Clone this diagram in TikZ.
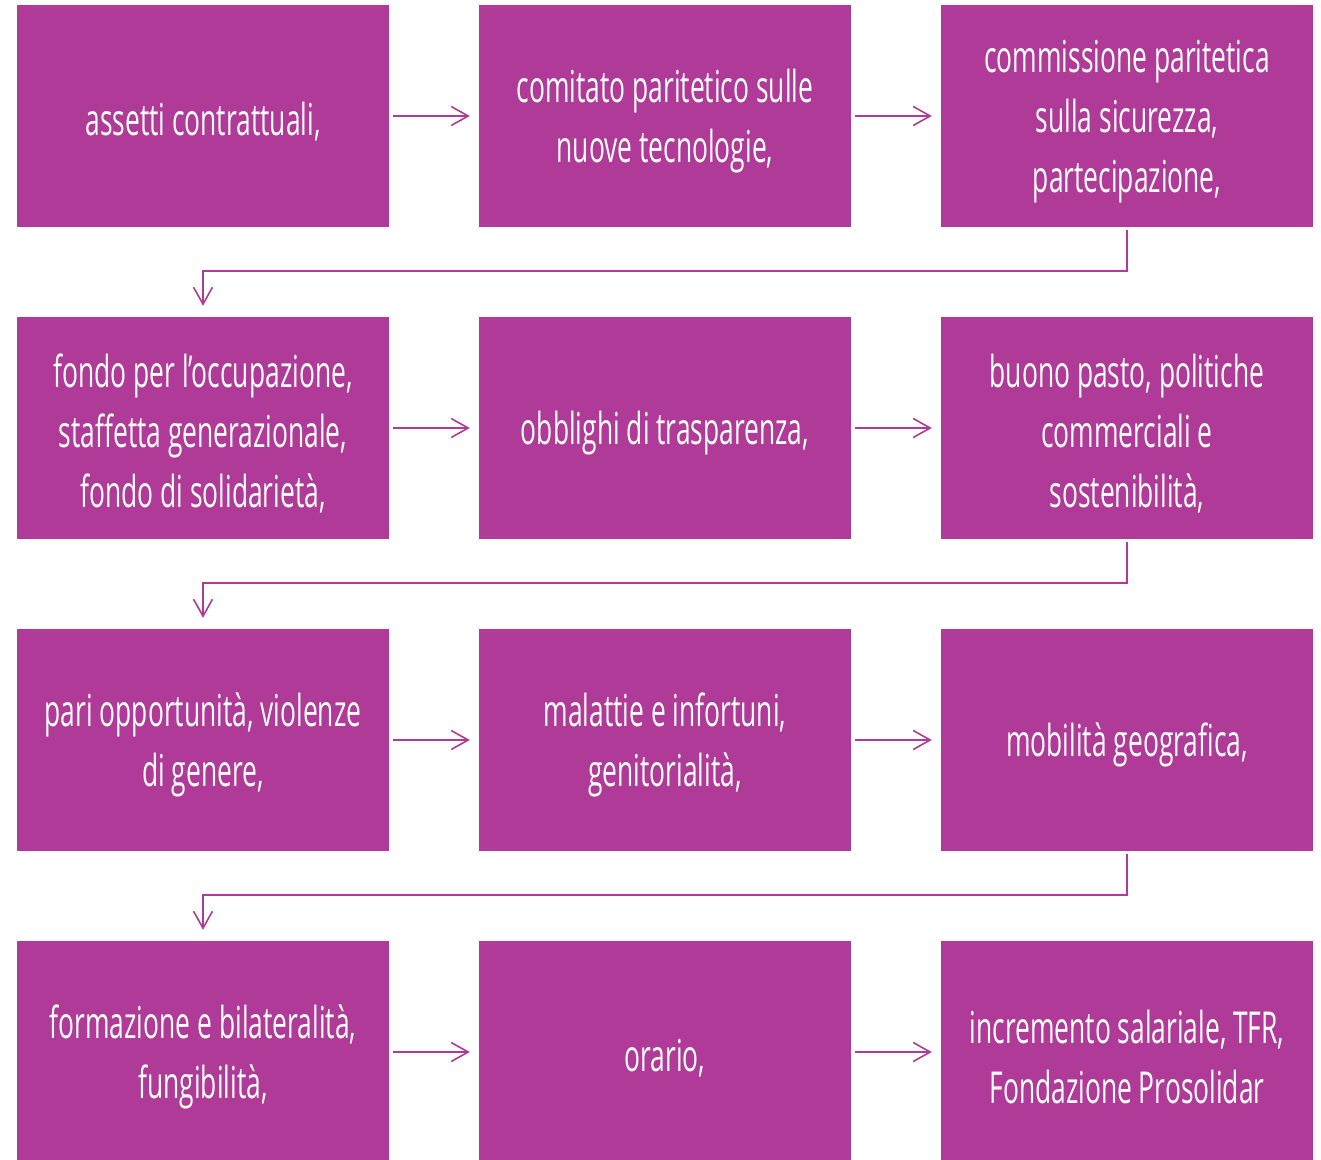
\documentclass[tikz,border=0pt]{standalone}
\usepackage{fontspec}
\setmainfont{Open Sans}[FakeStretch=0.6]
\usetikzlibrary{arrows.meta}
\definecolor{boxc}{RGB}{176,58,152}
\newcommand\up{\rule{0pt}{44pt}}
\begin{document}
\begin{tikzpicture}[x=1pt,y=-1pt,
 box/.style={fill=boxc, draw=none, minimum width=372pt, minimum height=222pt, inner sep=0pt, text=white, align=center, font=\fontsize{44}{60}\selectfont},
 conn/.style={draw=boxc, line width=1.6pt, -{Straight Barb[length=17pt,width=19pt,line width=1.6pt]}}]
\useasboundingbox (0,0) rectangle (1321,1159);
\node[box] (a1) at (203,116) {\up assetti contrattuali,};
\node[box] (a2) at (665,116) {\up comitato paritetico sulle\\nuove tecnologie,};
\node[box] (a3) at (1127,116) {\up commissione paritetica\\sulla sicurezza,\\partecipazione,};
\node[box] (b1) at (203,428) {\up fondo per l’occupazione,\\staffetta generazionale,\\fondo di solidarietà,};
\node[box] (b2) at (665,428) {\up obblighi di trasparenza,};
\node[box] (b3) at (1127,428) {\up buono pasto, politiche\\commerciali e\\sostenibilità,};
\node[box] (c1) at (203,740) {\up pari opportunità, violenze\\di genere,};
\node[box] (c2) at (665,740) {\up malattie e infortuni,\\genitorialità,};
\node[box] (c3) at (1127,740) {\up mobilità geografica,};
\node[box] (d1) at (203,1052) {\up formazione e bilateralità,\\fungibilità,};
\node[box] (d2) at (665,1052) {\up orario,};
\node[box] (d3) at (1127,1052) {\up incremento salariale, TFR,\\Fondazione Prosolidar};
\foreach \r in {a,b,c,d}{
 \draw[conn] ([xshift=4pt]\r1.east) -- ([xshift=-9pt]\r2.west);
 \draw[conn] ([xshift=4pt]\r2.east) -- ([xshift=-9pt]\r3.west);
}
\draw[conn] ([yshift=-3pt]a3.south) -- ++(0,41) -| ([yshift=11pt]b1.north);
\draw[conn] ([yshift=-3pt]b3.south) -- ++(0,41) -| ([yshift=11pt]c1.north);
\draw[conn] ([yshift=-3pt]c3.south) -- ++(0,41) -| ([yshift=11pt]d1.north);
\end{tikzpicture}
\end{document}
